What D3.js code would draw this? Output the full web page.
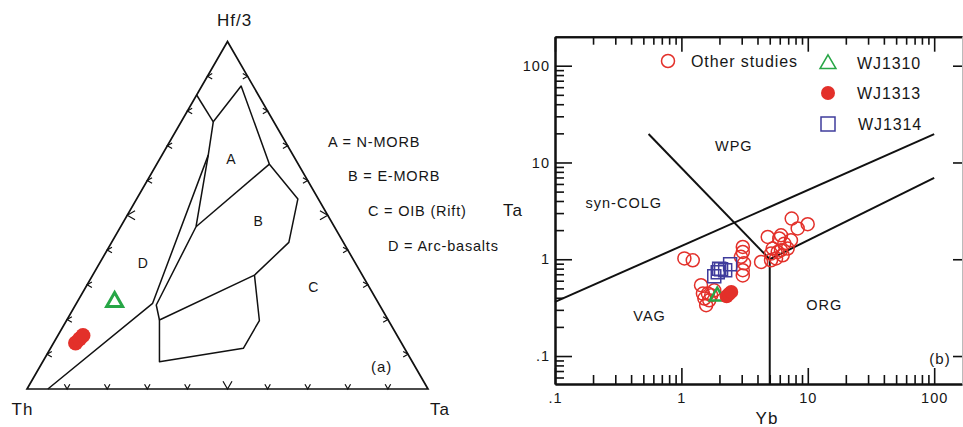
<!DOCTYPE html>
<html>
<head>
<meta charset="utf-8">
<script src="https://cdn.jsdelivr.net/npm/d3@7/dist/d3.min.js"></script>
<style>
  body { margin: 0; background: #fff; }
  text { font-family: "Liberation Sans", Arial, sans-serif; fill: #161616; }
</style>
</head>
<body>
<svg id="chart" width="963" height="427"></svg>
<script>
// ---------- (a) Th - Hf/3 - Ta ternary, points as [Th, Hf/3, Ta] fractions ----------
var apexLabels = ["Th", "Hf/3", "Ta"];
// field boundaries
var fieldLines = [
  [[0.154, 0.846, 0], [0.151, 0.769, 0.080]],
  [[0.151, 0.769, 0.080], [0.030, 0.872, 0.098], [0.072, 0.647, 0.281], [0.051, 0.547, 0.402],
   [0.136, 0.422, 0.442], [0.269, 0.3275, 0.4035], [0.322, 0.197, 0.481], [0.402, 0.117, 0.481],
   [0.630, 0.0786, 0.291], [0.570, 0.1986, 0.231], [0.269, 0.3275, 0.4035]],
  [[0.151, 0.769, 0.080], [0.211, 0.673, 0.1155], [0.345, 0.467, 0.188], [0.557, 0.2417, 0.2015], [0.570, 0.1986, 0.231]],
  [[0.072, 0.647, 0.281], [0.345, 0.467, 0.188]],
  [[0.211, 0.673, 0.1155], [0.563, 0.2466, 0.190], [0.948, 0, 0.052]]
];
var fieldNames = ["A", "B", "C", "D"];
var fieldNamePos = [[0.161, 0.661, 0.178], [0.1815, 0.4835, 0.335], [0.1397, 0.2927, 0.5676], [0.5306, 0.3617, 0.1077]];
var fieldKey = ["A = N-MORB", "B = E-MORB", "C = OIB (Rift)", "D = Arc-basalts"];
var ternWJ1310 = [[0.656, 0.251, 0.093]];
var ternWJ1313 = [[0.8127, 0.1324, 0.0549], [0.797, 0.1439, 0.059], [0.7834, 0.154, 0.0626]];
var edgeTicks = [0.1, 0.2, 0.3, 0.4, 0.5, 0.6, 0.7, 0.8, 0.9];

// ---------- (b) Ta vs Yb ----------
var otherYb = [7.46, 9.98, 8.32, 4.82, 6.14, 5.95, 7.36, 6.52, 5.28, 6.14, 6.93, 5.12, 6.33, 4.27,
               3.06, 3.06, 2.96, 3.06, 3.06, 1.056, 1.23, 1.43, 1.62, 1.52, 1.72, 1.57, 1.82, 1.48,
               5.12, 5.78, 1.66, 3.13, 5.61];
var otherTa = [2.63, 2.30, 2.08, 1.70, 1.77, 1.64, 1.57, 1.45, 1.29, 1.24, 1.29, 1.145, 1.10, 0.938,
               1.34, 1.19, 1.06, 0.77, 0.68, 1.02, 0.976, 0.539, 0.442, 0.393, 0.425, 0.335, 0.478, 0.442,
               0.976, 1.19, 0.377, 0.909, 1.02];
var wj1314Yb = [1.82, 1.94, 2.06, 2.22, 2.43, 1.99];
var wj1314Ta = [0.667, 0.734, 0.788, 0.77, 0.888, 0.798];
var wj1310Yb = [1.92];
var wj1310Ta = [0.415];
var wj1313Yb = [2.28, 2.38, 2.48];
var wj1313Ta = [0.415, 0.437, 0.46];
var boundaries = [
  [[0.1, 0.362], [100, 19.6]],
  [[0.55, 19.7], [5, 1]],
  [[5, 1], [100, 6.93]],
  [[5, 1], [5, 0.0514]]
];
var regionNames = ["WPG", "syn-COLG", "VAG", "ORG"];
var regionPos = [[2.6, 14.8], [0.35, 3.8], [0.56, 0.26], [13.5, 0.34]];
var xMajor = [0.1, 1, 10, 100];
var xMinor = [0.2, 0.3, 0.4, 0.5, 0.6, 0.7, 0.8, 0.9, 2, 3, 4, 5, 6, 7, 8, 9, 20, 30, 40, 50, 60, 70, 80, 90];
var yMajor = [0.1, 1, 10, 100];
var yMinor = [0.06, 0.07, 0.08, 0.09, 0.2, 0.3, 0.4, 0.5, 0.6, 0.7, 0.8, 0.9, 2, 3, 4, 5, 6, 7, 8, 9,
              20, 30, 40, 50, 60, 70, 80, 90];
var legendNames = ["Other studies", "WJ1310", "WJ1313", "WJ1314"];

var RED = "#e3302a", GREEN = "#27a646", BLUE = "#3f3c9c", INK = "#111";

var svg = d3.select("#chart");

// ===== ternary =====
var tx = d3.scaleLinear().domain([0, 1]).range([27, 428]);
var ty = d3.scaleLinear().domain([0, Math.sqrt(3) / 2]).range([389, 41.5]);
function tp(p) { // [Th, Hf, Ta] -> pixel
  return [tx(p[2] + p[1] / 2), ty(p[1] * Math.sqrt(3) / 2)];
}
var tern = svg.append("g");
var line = d3.line();

tern.append("path")
  .attr("d", line([tp([1, 0, 0]), tp([0, 1, 0]), tp([0, 0, 1])]) + "Z")
  .attr("fill", "none").attr("stroke", INK).attr("stroke-width", 1.7);

fieldLines.forEach(function (l) {
  tern.append("path").attr("d", line(l.map(tp)))
    .attr("fill", "none").attr("stroke", INK).attr("stroke-width", 1.5)
    .attr("stroke-linejoin", "round");
});

// edge ticks
var ang = Math.PI / 6;
edgeTicks.forEach(function (f) {
  var len = (f === 0.5) ? 9 : 5.5;
  var sides = [
    { p: tp([1 - f, 0, f]), dir: -Math.PI / 2 },     // bottom, arms up
    { p: tp([1 - f, f, 0]), dir: 0 },                // left, arms right
    { p: tp([0, f, 1 - f]), dir: Math.PI }           // right, arms left
  ];
  sides.forEach(function (s) {
    var a1 = s.dir - ang, a2 = s.dir + ang;
    var pts = [[s.p[0] + len * Math.cos(a1), s.p[1] + len * Math.sin(a1)], s.p,
               [s.p[0] + len * Math.cos(a2), s.p[1] + len * Math.sin(a2)]];
    tern.append("path").attr("d", line(pts)).attr("fill", "none")
      .attr("stroke", INK).attr("stroke-width", 1.2);
  });
});

tern.append("text").attr("x", 22.5).attr("y", 409.5).attr("dy", "0.35em").attr("text-anchor", "middle")
  .style("font-size", "17px").style("letter-spacing", "1px").text(apexLabels[0]);
tern.append("text").attr("x", 234.5).attr("y", 20).attr("dy", "0.35em").attr("text-anchor", "middle")
  .style("font-size", "17px").style("letter-spacing", "1px").text(apexLabels[1]);
tern.append("text").attr("x", 430).attr("y", 409.5).attr("dy", "0.35em")
  .style("font-size", "17px").style("letter-spacing", "1px").text(apexLabels[2]);

fieldNames.forEach(function (n, i) {
  var p = tp(fieldNamePos[i]);
  tern.append("text").attr("x", p[0]).attr("y", p[1]).attr("dy", "0.35em").attr("text-anchor", "middle")
    .style("font-size", "14px").text(n);
});
fieldKey.forEach(function (k, i) {
  tern.append("text").attr("x", 328 + i * 20).attr("y", 141.7 + i * 34.7).attr("dy", "0.35em")
    .style("font-size", "14.5px").style("letter-spacing", "0.8px").text(k);
});
tern.append("text").attr("x", 381.7).attr("y", 366.7).attr("dy", "0.35em").attr("text-anchor", "middle")
  .style("font-size", "15px").style("letter-spacing", "1px").text("(a)");

tern.selectAll(".t1310").data(ternWJ1310).enter().append("path")
  .attr("transform", function (d) { var p = tp(d); return "translate(" + p[0] + "," + p[1] + ")"; })
  .attr("d", d3.symbol(d3.symbolTriangle, 110))
  .attr("fill", "none").attr("stroke", GREEN).attr("stroke-width", 3);
tern.selectAll(".t1313").data(ternWJ1313).enter().append("circle")
  .attr("cx", function (d) { return tp(d)[0]; })
  .attr("cy", function (d) { return tp(d)[1]; })
  .attr("r", 7.5).attr("fill", RED);

// ===== Ta - Yb =====
var bx = d3.scaleLog().domain([0.1, 166]).range([555, 962]);
var by = d3.scaleLog().domain([0.0514, 199.4]).range([384, 36.7]);
var fmt = function (d) { return d === 0.1 ? ".1" : d3.format("d")(d); };
var plot = svg.append("g");

function styleAxis(g) {
  g.selectAll("path.domain").attr("stroke", INK).attr("stroke-width", 2);
  g.selectAll(".tick line").attr("stroke", INK).attr("stroke-width", 1.6);
  g.selectAll(".tick text").style("font-size", "14.5px").style("letter-spacing", "1px")
    .style("font-family", "'Liberation Sans', Arial, sans-serif").attr("fill", "#161616");
}
var gb = plot.append("g").attr("transform", "translate(0,384)")
  .call(d3.axisBottom(bx).tickValues(xMajor).tickSize(-16).tickSizeOuter(0).tickPadding(9).tickFormat(fmt));
plot.append("g").attr("transform", "translate(0,384)")
  .call(d3.axisBottom(bx).tickValues(xMinor).tickSize(-9).tickSizeOuter(0).tickFormat("")).call(styleAxis);
styleAxis(gb);
var gt = plot.append("g").attr("transform", "translate(0,36.7)")
  .call(d3.axisTop(bx).tickValues(xMajor).tickSize(-15).tickSizeOuter(0).tickFormat(""));
styleAxis(gt);
plot.append("g").attr("transform", "translate(0,36.7)")
  .call(d3.axisTop(bx).tickValues(xMinor).tickSize(-8).tickSizeOuter(0).tickFormat("")).call(styleAxis);
var gl = plot.append("g").attr("transform", "translate(555,0)")
  .call(d3.axisLeft(by).tickValues(yMajor).tickSize(-17).tickSizeOuter(0).tickPadding(5).tickFormat(fmt));
styleAxis(gl);
plot.append("g").attr("transform", "translate(555,0)")
  .call(d3.axisLeft(by).tickValues(yMinor).tickSize(-9).tickSizeOuter(0).tickFormat("")).call(styleAxis);
var gr = plot.append("g").attr("transform", "translate(962,0)")
  .call(d3.axisRight(by).tickValues(yMajor).tickSize(-9).tickSizeOuter(0).tickFormat(""));
styleAxis(gr);
gr.select("path.domain").attr("stroke", "#bbb").attr("stroke-width", 1);

var bline = d3.line().x(function (d) { return bx(d[0]); }).y(function (d) { return by(d[1]); });
boundaries.forEach(function (b) {
  plot.append("path").attr("d", bline(b)).attr("fill", "none").attr("stroke", INK).attr("stroke-width", 2);
});

regionNames.forEach(function (n, i) {
  plot.append("text").attr("x", bx(regionPos[i][0])).attr("y", by(regionPos[i][1])).attr("dy", "0.35em")
    .attr("text-anchor", "middle").style("font-size", "14.5px").style("letter-spacing", "1px").text(n);
});
plot.append("text").attr("x", 940).attr("y", 358.3).attr("dy", "0.35em").attr("text-anchor", "middle")
  .style("font-size", "15px").style("letter-spacing", "1px").text("(b)");
plot.append("text").attr("x", 513).attr("y", 210).attr("dy", "0.35em").attr("text-anchor", "middle")
  .style("font-size", "17px").style("letter-spacing", "1px").text("Ta");
plot.append("text").attr("x", 767).attr("y", 418).attr("dy", "0.35em").attr("text-anchor", "middle")
  .style("font-size", "17px").style("letter-spacing", "1px").text("Yb");

// samples
plot.selectAll(".other").data(d3.range(otherYb.length)).enter().append("circle")
  .attr("cx", function (i) { return bx(otherYb[i]); })
  .attr("cy", function (i) { return by(otherTa[i]); })
  .attr("r", 6.5).attr("fill", "none").attr("stroke", RED).attr("stroke-width", 1.5);
plot.selectAll(".wj1314").data(d3.range(wj1314Yb.length)).enter().append("rect")
  .attr("x", function (i) { return bx(wj1314Yb[i]) - 6.5; })
  .attr("y", function (i) { return by(wj1314Ta[i]) - 6.5; })
  .attr("width", 13).attr("height", 13)
  .attr("fill", "none").attr("stroke", BLUE).attr("stroke-width", 1.5);
plot.selectAll(".wj1310").data(d3.range(wj1310Yb.length)).enter().append("path")
  .attr("transform", function (i) { return "translate(" + bx(wj1310Yb[i]) + "," + by(wj1310Ta[i]) + ")"; })
  .attr("d", d3.symbol(d3.symbolTriangle, 95))
  .attr("fill", "none").attr("stroke", GREEN).attr("stroke-width", 2.5);
plot.selectAll(".wj1313").data(d3.range(wj1313Yb.length)).enter().append("circle")
  .attr("cx", function (i) { return bx(wj1313Yb[i]); })
  .attr("cy", function (i) { return by(wj1313Ta[i]); })
  .attr("r", 7).attr("fill", RED);

// legend
var leg = plot.append("g");
leg.append("circle").attr("cx", 668).attr("cy", 61).attr("r", 6.5)
  .attr("fill", "none").attr("stroke", RED).attr("stroke-width", 1.5);
leg.append("path").attr("transform", "translate(828,64)").attr("d", d3.symbol(d3.symbolTriangle, 110))
  .attr("fill", "none").attr("stroke", GREEN).attr("stroke-width", 1.5);
leg.append("circle").attr("cx", 828).attr("cy", 93).attr("r", 7).attr("fill", RED);
leg.append("rect").attr("x", 821).attr("y", 117).attr("width", 14).attr("height", 14)
  .attr("fill", "none").attr("stroke", BLUE).attr("stroke-width", 1.5);
var legX = [691, 857, 857, 858], legY = [61, 63, 93, 124];
legendNames.forEach(function (n, i) {
  leg.append("text").attr("x", legX[i]).attr("y", legY[i]).attr("dy", "0.35em")
    .style("font-size", "16px").style("letter-spacing", "0.9px").text(n);
});
</script>
</body>
</html>
